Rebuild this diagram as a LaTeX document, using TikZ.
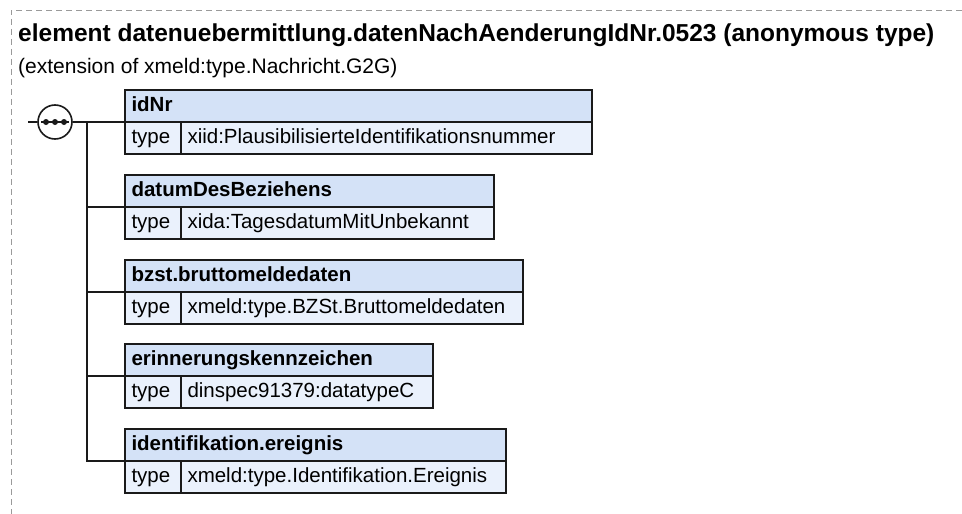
\documentclass[tikz,border=0pt]{standalone}
\usepackage{fontspec}
\setmainfont{Liberation Sans}
\usetikzlibrary{positioning}
\definecolor{framegray}{HTML}{9A9A9A}
\definecolor{headblue}{HTML}{D4E2F7}
\definecolor{rowblue}{HTML}{EAF1FC}
\definecolor{edgeblack}{HTML}{1A1A1A}

\begin{document}
\begin{tikzpicture}[x=1pt, y=-1pt,
  cellbase/.style={draw=edgeblack, line width=1.6pt, anchor=north west, outer sep=0pt,
    minimum height=32pt, inner xsep=6.5pt, inner ysep=0pt, align=left,
    text height=14.8pt, text depth=4.3pt},
  headbox/.style={cellbase, fill=headblue, font=\fontsize{20.5}{24}\selectfont\bfseries},
  typecell/.style={cellbase, fill=rowblue, text width=43pt, font=\fontsize{20.5}{24}\selectfont},
  valcell/.style={cellbase, fill=rowblue, font=\fontsize{20.5}{24}\selectfont},
  seqcircle/.style={draw=edgeblack, fill=white, circle, line width=1.6pt, minimum size=34pt, inner sep=0pt},
  conn/.style={draw=edgeblack, line width=1.8pt}]

  \useasboundingbox (0,0) rectangle (962,514);

  % Dashed frame
  \draw[framegray, line width=1pt, dash pattern=on 6pt off 4pt] (962,10) -- (11,10) -- (11,514);

  % Title
  \node[anchor=base west, inner sep=0pt, font=\fontsize{24.5}{28}\selectfont\bfseries] (title) at (18,41)
    {element datenuebermittlung.datenNachAenderungIdNr.0523 (anonymous type)};
  \node[anchor=base west, inner sep=0pt, font=\fontsize{21}{25}\selectfont] (subtitle) at (18,73.5)
    {(extension of xmeld:type.Nachricht.G2G)};

  % Sequence symbol
  \coordinate (inlet) at (28,122);
  \node[seqcircle] (seq) at (55,122) {};
  \draw[edgeblack, line width=1.8pt] (seq.center) ++(-14,0) -- ++(28,0);
  \fill[edgeblack] (seq.center) ++(-9,0) circle (3);
  \fill[edgeblack] (seq.center) circle (3);
  \fill[edgeblack] (seq.center) ++(9,0) circle (3);

  % idNr
  \node[headbox, text width=454pt] (idNr) at (125,90) {idNr};
  \node[typecell] (idNrT) at (idNr.south west) {type};
  \node[valcell, text width=398pt] (idNrV) at (idNrT.north east) {xiid:PlausibilisierteIdentifikationsnummer};

  % datumDesBeziehens
  \node[headbox, text width=356pt] (datum) at (125,175) {datumDesBeziehens};
  \node[typecell] (datumT) at (datum.south west) {type};
  \node[valcell, text width=300pt] (datumV) at (datumT.north east) {xida:TagesdatumMitUnbekannt};

  % bzst.bruttomeldedaten
  \node[headbox, text width=385pt] (brutto) at (125,260) {bzst.bruttomeldedaten};
  \node[typecell] (bruttoT) at (brutto.south west) {type};
  \node[valcell, text width=329pt] (bruttoV) at (bruttoT.north east) {xmeld:type.BZSt.Bruttomeldedaten};

  % erinnerungskennzeichen
  \node[headbox, text width=295pt] (erinn) at (125,344) {erinnerungskennzeichen};
  \node[typecell] (erinnT) at (erinn.south west) {type};
  \node[valcell, text width=239pt] (erinnV) at (erinnT.north east) {dinspec91379:datatypeC};

  % identifikation.ereignis
  \node[headbox, text width=368pt] (ereig) at (125,429) {identifikation.ereignis};
  \node[typecell] (ereigT) at (ereig.south west) {type};
  \node[valcell, text width=312pt] (ereigV) at (ereigT.north east) {xmeld:type.Identifikation.Ereignis};

  % Connectors
  \coordinate (fork) at (87,122);
  \draw[conn] (inlet) -- (seq.west);
  \draw[conn] (seq.east) -- (idNr.south west);
  \draw[conn] (fork) |- (datum.south west);
  \draw[conn] (fork) |- (brutto.south west);
  \draw[conn] (fork) |- (erinn.south west);
  \draw[conn] (fork) |- (ereig.south west);

\end{tikzpicture}
\end{document}
